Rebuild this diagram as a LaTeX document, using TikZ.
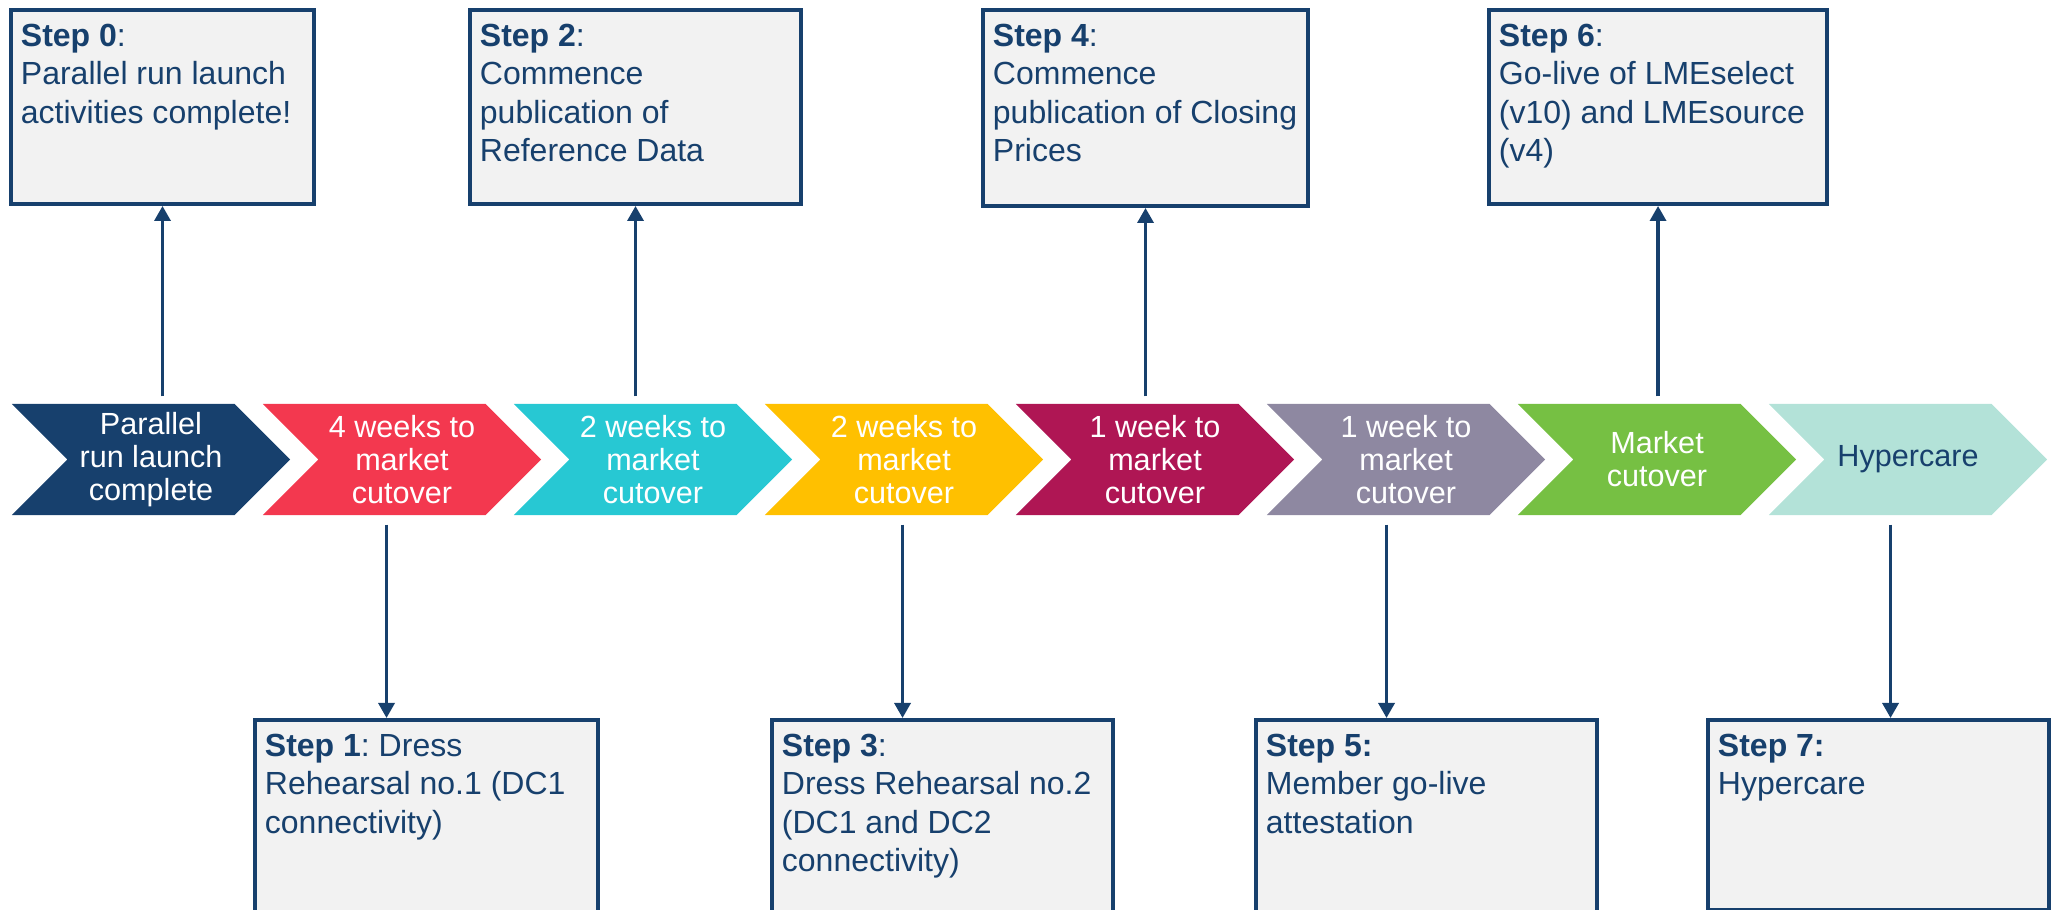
\documentclass[tikz,border=0pt]{standalone}
\usepackage{fontspec}
\setmainfont{Liberation Sans}
\usepackage{tikz}
\usetikzlibrary{shapes.symbols,arrows.meta,positioning}
\frenchspacing
\definecolor{navy}{RGB}{23,64,109}
\definecolor{boxgrey}{RGB}{242,242,242}
\definecolor{cRed}{RGB}{243,56,79}
\definecolor{cCyan}{RGB}{39,200,211}
\definecolor{cAmber}{RGB}{255,192,0}
\definecolor{cCrimson}{RGB}{175,22,84}
\definecolor{cMauve}{RGB}{142,136,161}
\definecolor{cGreen}{RGB}{118,192,67}
\definecolor{cMint}{RGB}{179,226,216}
\newcommand{\stepbody}[3]{\parbox[t][#2][t]{#1}{\raggedright #3}}
\tikzset{chev/.style={signal,signal from=west,signal to=east,signal pointer angle=90,minimum width=2.78cm,minimum height=1.11cm,inner sep=0pt,align=center,font=\fontsize{8.7pt}{9.4pt}\selectfont},
  stepbox/.style={draw=navy,fill=boxgrey,line width=1.1pt,anchor=north west,inner xsep=0.1cm,inner ysep=0.14cm,text=navy,font=\fontsize{9.1pt}{10.95pt}\selectfont},
  link/.style={draw=navy,line width=0.95pt,-{Triangle[width=0.16cm,length=0.15cm]}}}

\begin{document}
\begin{tikzpicture}[x=0.01cm,y=-0.01cm]
    \useasboundingbox (0,0) rectangle (2054,910);
    \clip (0,0) rectangle (2054,910);
    % timeline
    \foreach \i/\col/\tcol/\txt in {0/navy/white/{Parallel\\run launch\\complete},
        1/cRed/white/{4 weeks to\\market\\cutover},
        2/cCyan/white/{2 weeks to\\market\\cutover},
        3/cAmber/white/{2 weeks to\\market\\cutover},
        4/cCrimson/white/{1 week to\\market\\cutover},
        5/cMauve/white/{1 week to\\market\\cutover},
        6/cGreen/white/{Market\\cutover},
        7/cMint/navy/{Hypercare}}
      \node[chev,fill=\col,text=\tcol] (c\i) at ({151+251*\i},459.5) {\txt};
    % steps above
    \node[stepbox] (s0) at (9,8) {\stepbody{2.83cm}{1.66cm}{\textbf{Step 0}:\\Parallel run launch\\activities complete!}};
    \node[stepbox] (s2) at (468,8) {\stepbody{3.11cm}{1.66cm}{\textbf{Step 2}:\\Commence\\publication of\\Reference Data}};
    \node[stepbox] (s4) at (981,8) {\stepbody{3.05cm}{1.68cm}{\textbf{Step 4}:\\Commence\\publication of Closing\\Prices}};
    \node[stepbox] (s6) at (1487,8) {\stepbody{3.18cm}{1.66cm}{\textbf{Step 6}:\\Go-live of LMEselect\\(v10) and LMEsource\\(v4)}};
    % steps below
    \node[stepbox] (s1) at (253,718) {\stepbody{3.23cm}{1.74cm}{\textbf{Step 1}: Dress\\Rehearsal no.1 (DC1\\connectivity)}};
    \node[stepbox] (s3) at (770,718) {\stepbody{3.21cm}{1.74cm}{\textbf{Step 3}:\\Dress Rehearsal no.2\\(DC1 and DC2\\connectivity)}};
    \node[stepbox] (s5) at (1254,718) {\stepbody{3.21cm}{1.74cm}{\textbf{Step 5:}\\Member go-live\\attestation}};
    \node[stepbox] (s7) at (1706,718) {\stepbody{3.21cm}{1.62cm}{\textbf{Step 7:}\\Hypercare}};
    % connectors
    \foreach \i in {0,2,4,6}
      \draw[link,shorten <=0.07cm] (c\i.north -| s\i.south) -- (s\i.south);
    \foreach \i/\dx in {1/-40,3/-40,5/-40,7/12} {
      \coordinate (a\i) at ([shift={(\dx,0)}]s\i.north);
      \draw[link,shorten <=0.09cm] (a\i |- c\i.south) -- (a\i);
    }
\end{tikzpicture}
\end{document}
